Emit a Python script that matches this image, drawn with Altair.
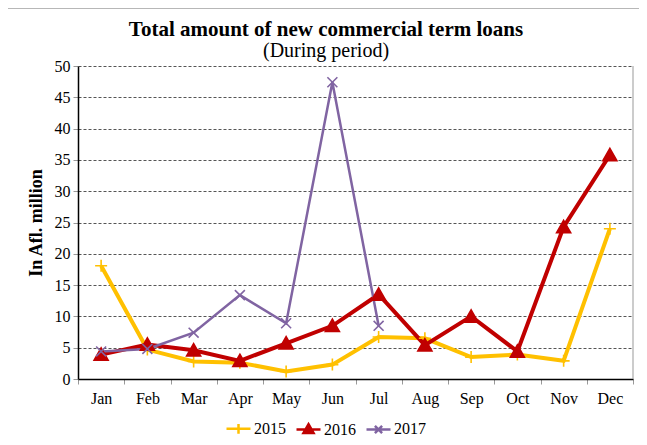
import altair as alt
import pandas as pd

months = ["Jan", "Feb", "Mar", "Apr", "May", "Jun", "Jul", "Aug", "Sep", "Oct", "Nov", "Dec"]
v2015 = [18.1, 4.7, 2.8, 2.6, 1.2, 2.3, 6.7, 6.5, 3.5, 3.9, 2.9, 24.0]
v2016 = [3.9, 5.5, 4.6, 2.9, 5.7, 8.5, 13.5, 5.4, 10.0, 4.4, 24.3, 35.8]
v2017 = [4.4, 4.8, 7.4, 13.4, 8.9, 47.4, 8.5]
years = ["2015", "2016", "2017"]
colors = ["#FFC000", "#C00000", "#8064A2"]
line_widths = [4, 4, 2.5]
y_ticks = [0, 5, 10, 15, 20, 25, 30, 35, 40, 45, 50]
title_text = "Total amount of new commercial term loans"
subtitle_text = "(During period)"

marker_paths = [
    "M-1,0H1M0,-1V1",
    "M0,-1.1L1.17,0.95L-1.17,0.95Z",
    "M-0.83,-0.83L0.83,0.83M-0.83,0.83L0.83,-0.83",
]
legend_paths = [
    "M-1,0H1M0,-0.4V0.4",
    "M-1,0H1M0,-0.45L0.42,0.28L-0.42,0.28Z",
    "M-1,0H1M-0.3,-0.3L0.3,0.3M-0.3,0.3L0.3,-0.3",
]

rows = []
for yr, vals in zip(years, [v2015, v2016, v2017]):
    for m, v in zip(months, vals):
        rows.append({"month": m, "value": v, "year": yr})
df = pd.DataFrame(rows)

SERIF = "Liberation Serif"
W, H = 555, 313

x_enc = alt.X(
    "month:N",
    sort=months,
    scale=alt.Scale(type="band", domain=months, paddingInner=0, paddingOuter=0),
    axis=alt.Axis(
        title=None, labelAngle=0, labelPadding=6, labelFont=SERIF, labelFontSize=16,
        labelColor="black", domainColor="black", domainWidth=1.5,
        tickColor="#999999", tickSize=5, tickBand="extent", grid=False,
    ),
)
y_enc = alt.Y(
    "value:Q",
    scale=alt.Scale(domain=[0, 50], nice=False),
    axis=alt.Axis(
        values=y_ticks, title="In Afl. million", titleFont=SERIF, titleFontWeight="bold",
        titleFontSize=18, titleColor="black", titlePadding=9,
        labelFont=SERIF, labelFontSize=16, labelColor="black", labelPadding=3,
        labelOverlap=False, domainColor="black", domainWidth=1.5,
        tickColor="#999999", tickSize=5,
        grid=True, gridColor="#555555", gridDash=[3, 2], gridWidth=1,
    ),
)
color_scale = alt.Scale(domain=years, range=colors)

layers = []
one = pd.DataFrame({"a": [0]})
layers.append(
    alt.Chart(one).mark_rect(fill="transparent", stroke="#a0a0a0", strokeWidth=1.5).encode(
        x=alt.value(-74), x2=alt.value(700), y=alt.value(-58), y2=alt.value(600)
    )
)
layers.append(
    alt.Chart(one).mark_rule(color="#999999", strokeWidth=1).encode(
        x=alt.value(W), y=alt.value(0), y2=alt.value(H)
    )
)

for i, yr in enumerate(years):
    layers.append(
        alt.Chart(df[df.year == yr]).mark_line(strokeWidth=line_widths[i]).encode(
            x=x_enc, y=y_enc, color=alt.Color("year:N", scale=color_scale)
        )
    )
for i, yr in enumerate(years):
    layers.append(
        alt.Chart(df[df.year == yr]).mark_point(
            shape=marker_paths[i], filled=True, size=144, strokeWidth=1.6, opacity=1
        ).encode(
            x=x_enc,
            y=y_enc,
            fill=alt.value(colors[i]),
            stroke=alt.value(colors[i]),
        )
    )

leg = alt.Legend(
    title=None, orient="none", legendX=147, legendY=349, direction="horizontal",
    labelFont=SERIF, labelFontSize=16, labelColor="black", symbolSize=576,
    symbolStrokeWidth=2.5, labelOffset=2, columnPadding=5, symbolOpacity=1,
)
layers.append(
    alt.Chart(df).transform_filter("datum.value < 0").mark_point(filled=True, opacity=1).encode(
        x=x_enc,
        y=y_enc,
        color=alt.Color("year:N", scale=color_scale, legend=leg),
        stroke=alt.Stroke("year:N", scale=color_scale, legend=leg),
        shape=alt.Shape("year:N", scale=alt.Scale(domain=years, range=legend_paths), legend=leg),
    )
)

layers.append(
    alt.Chart(one).mark_text(text=title_text, font=SERIF, fontSize=21, fontWeight="bold",
                             color="black", align="center", baseline="alphabetic").encode(
        x=alt.value(248), y=alt.value(-30)
    )
)
layers.append(
    alt.Chart(one).mark_text(text=subtitle_text, font=SERIF, fontSize=20,
                             color="black", align="center", baseline="alphabetic").encode(
        x=alt.value(248), y=alt.value(-9)
    )
)

chart = alt.layer(*layers).properties(
    width=W,
    height=H,
    autosize=alt.AutoSizeParams(type="none"),
    padding={"left": 70, "top": 58, "right": 6, "bottom": 58},
).configure(background="white", font=SERIF).configure_view(stroke=None).configure_axis(
    labelFont=SERIF, labelFontSize=16, labelColor="black",
    titleFont=SERIF, titleColor="black",
)

chart.save("out.html", embed_options={"renderer": "svg", "actions": False})
